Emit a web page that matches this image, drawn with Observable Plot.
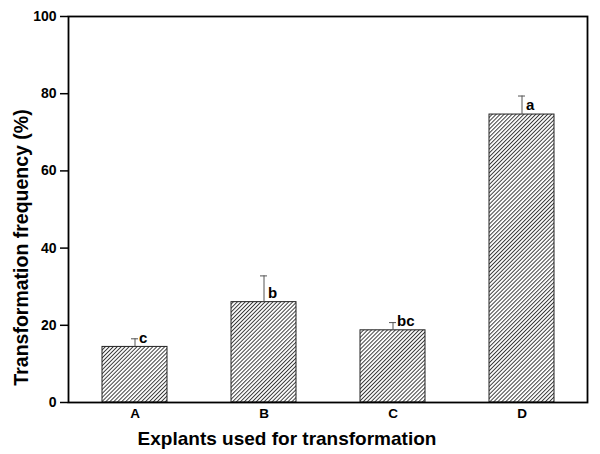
<!DOCTYPE html>
<html>
<head>
<meta charset="utf-8">
<script src="https://cdn.jsdelivr.net/npm/d3@7"></script>
<script src="https://cdn.jsdelivr.net/npm/@observablehq/plot@0.6"></script>
<style>
  html, body { margin: 0; padding: 0; background: #fff; }
  svg { display: block; }
</style>
</head>
<body>
<div id="chart"></div>
<script>
const categories = ["A", "B", "C", "D"];
const means = [14.4, 26.0, 18.7, 74.6];
const errors = [2.1, 6.8, 2.0, 4.8];
const letters = ["c", "b", "bc", "a"];
const yTicks = [0, 20, 40, 60, 80, 100];

const data = categories.map((c, i) => ({
  cat: c, mean: means[i], top: means[i] + errors[i], letter: letters[i]
}));

const font = "'Liberation Sans', Arial, Helvetica, sans-serif";

const svg = Plot.plot({
  width: 600,
  height: 454,
  marginLeft: 68,
  marginRight: 13,
  marginTop: 16,
  marginBottom: 52,
  style: { fontFamily: font, background: "#fff", color: "#000" },
  x: { domain: categories, paddingInner: 0.5, paddingOuter: 0.25, label: null },
  y: { domain: [0, 100], label: null },
  marks: [
    Plot.barY(data, { x: "cat", y: "mean", fill: "url(#hatch)", stroke: "#222", strokeWidth: 1 }),
    Plot.ruleX(data, { x: "cat", y1: "mean", y2: "top", stroke: "#555", strokeWidth: 1 }),
    Plot.tickY(data, { x: "cat", y: "top", stroke: "#555", strokeWidth: 1, insetLeft: 29, insetRight: 29 }),
    Plot.text(data, { x: "cat", y: "mean", text: "letter", dx: 4, dy: -9, textAnchor: "start", lineAnchor: "middle", fontSize: 15, fontWeight: "bold", fill: "#000" }),
    Plot.axisY({ ticks: yTicks, tickSize: 8, tickPadding: 4, fontSize: 14, fontWeight: "bold", stroke: "#000", strokeWidth: 1.5, label: null }),
    Plot.axisX({ tickSize: 0, tickPadding: 6, fontSize: 13.5, fontWeight: "bold", label: null }),
    Plot.frame({ stroke: "#000", strokeWidth: 1.8 }),
    Plot.text(["Explants used for transformation"], { frameAnchor: "bottom", dx: -41, dy: 36, textAnchor: "middle", lineAnchor: "middle", fontSize: 19, fontWeight: "bold", fill: "#000" }),
    Plot.text(["Transformation frequency (%)"], { frameAnchor: "left", dx: -47, dy: 38, rotate: -90, textAnchor: "middle", lineAnchor: "middle", fontSize: 19.5, fontWeight: "bold", fill: "#000" })
  ]
});

const defs = d3.select(svg).insert("defs", ":first-child");
const pat = defs.append("pattern")
  .attr("id", "hatch")
  .attr("patternUnits", "userSpaceOnUse")
  .attr("width", 2.8)
  .attr("height", 10)
  .attr("patternTransform", "rotate(45)");
pat.append("rect").attr("width", 2.8).attr("height", 10).attr("fill", "#fff");
pat.append("line").attr("x1", 0.5).attr("y1", 0).attr("x2", 0.5).attr("y2", 10)
  .attr("stroke", "#222").attr("stroke-width", 0.9);

document.getElementById("chart").appendChild(svg);
</script>
</body>
</html>
